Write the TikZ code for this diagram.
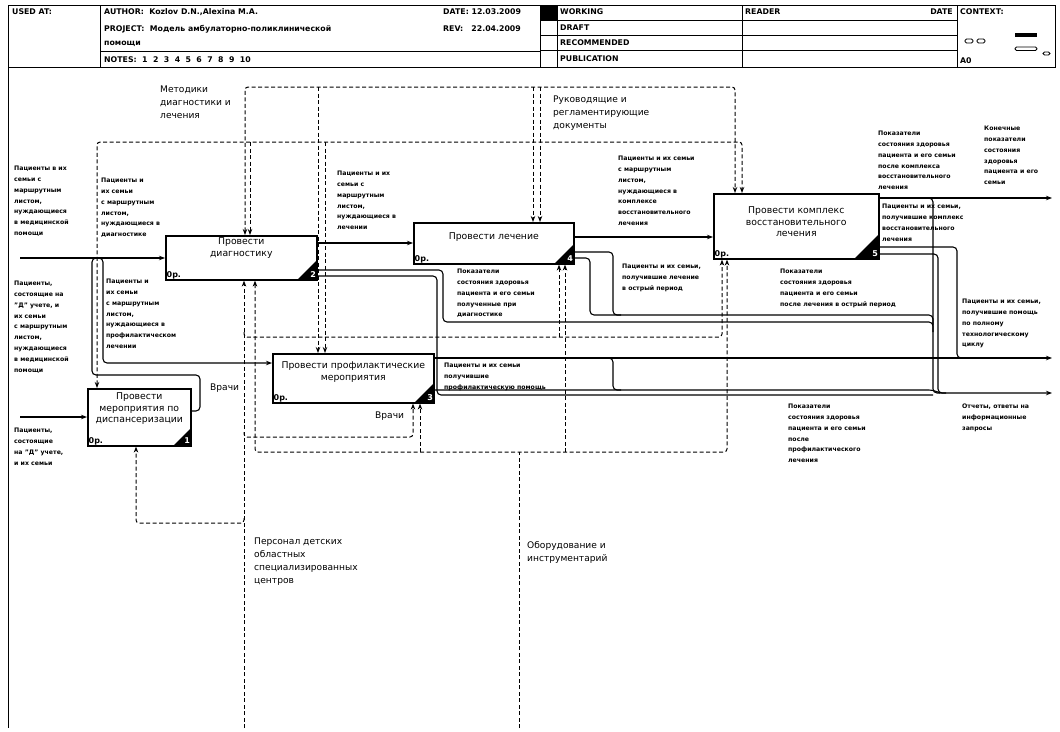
\documentclass[tikz,border=0pt]{standalone}
\usepackage{fontspec}
\setmainfont{DejaVu Sans}
\usetikzlibrary{arrows.meta}
\pgfdeclarelayer{bg}
\pgfsetlayers{bg,main}
\newcommand\hdrfont{\bfseries\fontsize{7.8}{9.6}\selectfont}
\newcommand\boxfont{\fontsize{9.3}{11.5}\selectfont}
\newcommand\smallfont{\bfseries\fontsize{6.2}{10.8}\selectfont}
\newcommand\bigfont{\fontsize{9.1}{13}\selectfont}
\begin{document}
\begin{tikzpicture}[x=1pt,y=-1pt,
  >={Stealth[length=6pt,width=4.5pt]},
  box/.style={draw,line width=1.6pt,fill=white,anchor=north west,inner sep=0pt},
  boxtxt/.style={font=\boxfont,align=center,inner sep=0pt,anchor=north},
  zero/.style={font=\bfseries\fontsize{8}{9}\selectfont,inner sep=1.5pt,anchor=south west},
  numtxt/.style={font=\bfseries\fontsize{8}{9}\selectfont,text=white,inner sep=0pt},
  lbl/.style={font=\smallfont,align=left,inner sep=0pt,anchor=north west},
  biglbl/.style={font=\bigfont,align=left,inner sep=0pt,anchor=north west},
  hdr/.style={font=\hdrfont,inner sep=0pt,anchor=west},
  flow/.style={line width=1.1pt,rounded corners=4pt},
  ctl/.style={line width=1pt,dash pattern=on 4pt off 2.5pt,rounded corners=3pt},
  frame/.style={line width=0.9pt}]
\useasboundingbox (0,0) rectangle (1060,731);
\begin{pgfonlayer}{bg}
\fill[white] (0,0) rectangle (1060,731);
\end{pgfonlayer}

% ---------- title block ----------
\draw[frame] (8,5) rectangle (1055,67);
\draw[frame] (100,5) -- (100,67) (540,5) -- (540,67) (557,5) -- (557,67)
  (742,5) -- (742,67) (957,5) -- (957,67);
\draw[frame] (100,51) -- (540,51);
\draw[frame] (540,20) -- (957,20) (540,35) -- (957,35) (540,50) -- (957,50);
\fill (540,5) rectangle (557,20);
\draw[frame] (8,67) -- (8,728);
\node[hdr] (usedat) at (12,12) {USED AT:};
\node[hdr] (author) at (104,12) {AUTHOR:\ \ Kozlov D.N.,Alexina M.A.};
\node[hdr] (project) at (104,29) {PROJECT:\ \ Модель амбулаторно-поликлинической};
\node[hdr] (project2) at (104,44) {помощи};
\node[hdr] (notes) at (104,60) {NOTES:\ \ 1\ \ 2\ \ 3\ \ 4\ \ 5\ \ 6\ \ 7\ \ 8\ \ 9\ \ 10};
\node[hdr] (date) at (443,12) {DATE:\ 12.03.2009};
\node[hdr] (rev) at (443,29) {REV:\ \ \ 22.04.2009};
\node[hdr] (working) at (560,12) {WORKING};
\node[hdr] (draft) at (560,27.5) {DRAFT};
\node[hdr] (recom) at (560,42.5) {RECOMMENDED};
\node[hdr] (publ) at (560,58.5) {PUBLICATION};
\node[hdr] (reader) at (745,12) {READER};
\node[hdr,anchor=east] (rdate) at (953,12) {DATE};
\node[hdr] (context) at (960,12) {CONTEXT:};
\node[hdr] (nodeid) at (960,61) {A0};
\draw[line width=0.9pt,rounded corners=1.5pt] (965,39) rectangle (973,43) (977,39) rectangle (985,43)
  (1015,47) rectangle (1037,50.5) (1043,52) rectangle (1050,55);
\fill (1015,33) rectangle (1037,36.5);

% ---------- activity boxes ----------
\node[box,minimum width=151pt,minimum height=44pt] (dia) at (165,235) {};
\node[box,minimum width=160pt,minimum height=41pt] (lech) at (413,222) {};
\node[box,minimum width=165pt,minimum height=65pt] (vos) at (713,193) {};
\node[box,minimum width=161pt,minimum height=49pt] (prof) at (272,353) {};
\node[box,minimum width=103pt,minimum height=57pt] (disp) at (87,388) {};

\node[boxtxt] (diat) at ([yshift=-3pt]dia.north) {Провести\\диагностику};
\node[boxtxt] (lecht) at ([yshift=-11pt]lech.north) {Провести лечение};
\node[boxtxt] (vost) at ([yshift=-14pt]vos.north) {Провести комплекс\\восстановительного\\лечения};
\node[boxtxt] (proft) at ([yshift=-9pt]prof.north) {Провести профилактические\\мероприятия};
\node[boxtxt] (dispt) at ([yshift=-5pt]disp.north) {Провести\\мероприятия по\\диспансеризации};

\foreach \b/\n/\s in {dia/2/21,lech/4/21,vos/5/26,prof/3/21,disp/1/19}{
  \fill (\b.south east) -- ++(-\s,0) -- ++(\s,-\s) -- cycle;
  \fill (\b.north west) -- ++(4,0) -- ++(-4,4) -- cycle;
  \node[numtxt] at ([xshift=-4.5pt,yshift=6pt]\b.south east) {\n};
  \node[zero] at (\b.south west) {0р.};
}

% ---------- coordinates at the sheet edges ----------
\coordinate (inA) at (20,258);
\coordinate (inB) at (20,417);
\coordinate (outA) at (1052,198);
\coordinate (outB) at (1052,358);
\coordinate (outC) at (1052,393);
\coordinate (ctlA) at (245,87);
\coordinate (ctlB) at (540,87);
\coordinate (mecA) at (244,728);
\coordinate (mecB) at (519,728);

\begin{pgfonlayer}{bg}
% ---------- inputs and outputs ----------
\draw[flow,->] (inA) -- (dia.west |- inA);
\draw[flow,->] (inB) -- (disp.west |- inB);
\draw[flow] (disp.east |- 0,411) -- (200,411) -- (200,375) -- (92,375) -- (92,258) -- (100,258);
\draw[flow,->] (96,258) -- (103,258) -- (103,363) -- (prof.west |- 0,363);
\draw[flow,->] (dia.east |- 0,243) -- (lech.west |- 0,243);
\draw[flow] (dia.east |- 0,270) -- (443,270) -- (443,322) -- (933,322) -- (933,332);
\draw[flow] (dia.east |- 0,276) -- (437,276) -- (437,395) -- (933,395);
\draw[flow,->] (lech.east |- 0,237) -- (vos.west |- 0,237);
\draw[flow] (lech.east |- 0,252) -- (613,252) -- (613,315) -- (621,315);
\draw[flow] (lech.east |- 0,258) -- (590,258) -- (590,315) -- (933,315) -- (933,325);
\draw[flow,->] (vos.east |- outA) -- (outA);
\draw[flow,->] (925,198) -- (933,198) -- (933,393) -- (outC);
\draw[flow] (vos.east |- 0,247) -- (957,247) -- (957,358) -- (965,358);
\draw[flow] (vos.east |- 0,254) -- (938,254) -- (938,393) -- (946,393);
\draw[flow,->] (prof.east |- outB) -- (outB);
\draw[flow] (prof.east |- 0,390) -- (933,390) -- (940,393);
\draw[flow] (605,358) -- (613,358) -- (613,390) -- (621,390);

% ---------- controls ----------
\draw[ctl,<->] (dia.north -| ctlA) -- (ctlA) -- (735,87) -- (vos.north -| 735,0);
\draw[ctl,->] (318,87) -- (prof.north -| 318,0);
\draw[ctl,->] (533,87) -- (lech.north -| 533,0);
\draw[ctl,->] (ctlB) -- (lech.north -| ctlB);
\draw[ctl,<->] (disp.north -| 97,0) -- (97,142) -- (742,142) -- (vos.north -| 742,0);
\draw[ctl,->] (250,142) -- (dia.north -| 250,0);
\draw[ctl,->] (325,142) -- (prof.north -| 325,0);

% ---------- mechanisms ----------
\draw[ctl,->] (mecA) -- (dia.south -| mecA);
\draw[ctl,->] (244,518) -- (244,523) -- (136,523) -- (disp.south -| 136,0);
\draw[ctl,->] (244,332) -- (244,337) -- (722,337) -- (vos.south -| 722,0);
\draw[ctl,->] (559,337) -- (lech.south -| 559,0);
\draw[ctl,->] (244,432) -- (244,437) -- (413,437) -- (prof.south -| 413,0);
\draw[ctl] (mecB) -- (519,452);
\draw[ctl,<->] (dia.south -| 255,0) -- (255,452) -- (727,452) -- (vos.south -| 727,0);
\draw[ctl,->] (420,452) -- (prof.south -| 420,0);
\draw[ctl,->] (565,452) -- (lech.south -| 565,0);
\end{pgfonlayer}

% ---------- arrow labels ----------
\node[lbl] (l1) at (14,166) {Пациенты в их\\семьи с\\маршрутным\\листом,\\нуждающиеся\\в медицинской\\помощи};
\node[lbl] (l2) at (101,178) {Пациенты и\\их семьи\\с маршрутным\\листом,\\нуждающиеся в\\диагностике};
\node[lbl] (l3) at (14,281) {Пациенты,\\состоящие на\\"Д" учете, и\\их семьи\\с маршрутным\\листом,\\нуждающиеся\\в медицинской\\помощи};
\node[lbl] (l4) at (106,279) {Пациенты и\\их семьи\\с маршрутным\\листом,\\нуждающиеся в\\профилактическом\\лечении};
\node[lbl] (l5) at (14,428) {Пациенты,\\состоящие\\на "Д" учете,\\и их семьи};
\node[lbl] (l6) at (337,171) {Пациенты и их\\семьи с\\маршрутным\\листом,\\нуждающиеся в\\лечении};
\node[lbl] (l7) at (457,269) {Показатели\\состояния здоровья\\пациента и его семьи\\полученные при\\диагностике};
\node[lbl] (l8) at (618,156) {Пациенты и их семьи\\с маршрутным\\листом,\\нуждающиеся в\\комплексе\\восстановительного\\лечения};
\node[lbl] (l9) at (622,264) {Пациенты и их семьи,\\получившие лечение\\в острый период};
\node[lbl] (l10) at (780,269) {Показатели\\состояния здоровья\\пациента и его семьи\\после лечения в острый период};
\node[lbl] (l11) at (878,131) {Показатели\\состояния здоровья\\пациента и его семьи\\после комплекса\\восстановительного\\лечения};
\node[lbl] (l12) at (984,126) {Конечные\\показатели\\состояния\\здоровья\\пациента и его\\семьи};
\node[lbl] (l13) at (882,204) {Пациенты и их семьи,\\получившие комплекс\\восстановительного\\лечения};
\node[lbl] (l14) at (962,299) {Пациенты и их семьи,\\получившие помощь\\по полному\\технологическому\\циклу};
\node[lbl] (l15) at (444,363) {Пациенты и их семьи\\получившие\\профилактическую помощь};
\node[lbl] (l16) at (788,404) {Показатели\\состояния здоровья\\пациента и его семьи\\после\\профилактического\\лечения};
\node[lbl] (l17) at (962,404) {Отчеты, ответы на\\информационные\\запросы};
\node[biglbl] (b1) at (160,86) {Методики\\диагностики и\\лечения};
\node[biglbl] (b2) at (553,96) {Руководящие и\\регламентирующие\\документы};
\node[biglbl] (b3) at (254,538) {Персонал детских\\областных\\специализированных\\центров};
\node[biglbl] (b4) at (527,541) {Оборудование и\\инструментарий};
\node[biglbl] (b5) at (210,384) {Врачи};
\node[biglbl] (b6) at (375,412) {Врачи};
\end{tikzpicture}
\end{document}
